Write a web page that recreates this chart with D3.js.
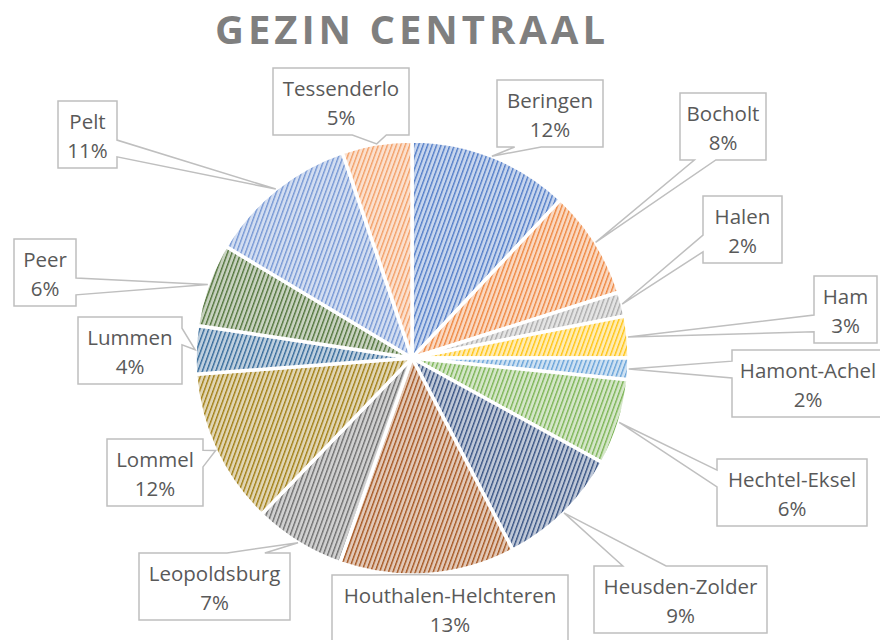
<!DOCTYPE html>
<html>
<head>
<meta charset="utf-8">
<script src="https://cdn.jsdelivr.net/npm/d3@7"></script>
<style>
  body { margin: 0; background: #fff; }
  svg { display: block; }
</style>
</head>
<body>
<div id="chart"></div>
<script>
var svgWidth = 880;
var svgHeight = 640;

// Data (share of total, %)
var gemeenten = ["Beringen", "Bocholt", "Halen", "Ham", "Hamont-Achel", "Hechtel-Eksel",
  "Heusden-Zolder", "Houthalen-Helchteren", "Leopoldsburg", "Lommel", "Lummen", "Peer",
  "Pelt", "Tessenderlo"];
var aandeel = [12.0, 8.1, 1.8, 3.1, 1.6, 6.4, 9.3, 13.1, 6.8, 11.6, 3.6, 6.2, 11.2, 5.2];
var kleuren = ["#4472C4", "#ED7D31", "#A5A5A5", "#FFC000", "#5B9BD5", "#70AD47",
  "#264478", "#9E480E", "#636363", "#997300", "#255E91", "#43682B", "#698ED0", "#F1975A"];

// callout boxes: [x, y, w, h]
var boxes = [
  [497, 80, 106, 67], [680, 93, 86, 67], [703, 196, 79, 67], [814, 276, 63, 67],
  [732, 350, 152, 67], [717, 459, 150, 67], [594, 566, 173, 67], [332, 575, 236, 67],
  [139, 553, 151, 67], [107, 439, 96, 67], [78, 317, 104, 67], [14, 239, 62, 67],
  [58, 101, 59, 67], [273, 68, 136, 67]
];

var cx = 412, cy = 358, radius = 217;

var svg = d3.select("#chart")
  .append("svg")
  .attr("width", svgWidth)
  .attr("height", svgHeight);

var defs = svg.append("defs");

// striped pattern per slice
kleuren.forEach(function(c, i) {
  var bg = d3.interpolateRgb(c, "#ffffff")(0.7);
  var p = defs.append("pattern")
    .attr("id", "pat" + i)
    .attr("patternUnits", "userSpaceOnUse")
    .attr("width", 4.2)
    .attr("height", 4.2)
    .attr("patternTransform", "rotate(20)");
  p.append("rect").attr("width", 4.2).attr("height", 4.2).attr("fill", bg);
  p.append("rect").attr("x", 0).attr("width", 1.35).attr("height", 4.2)
    .attr("fill", c).attr("opacity", 0.9);
});

// title
svg.append("text")
  .attr("x", 410)
  .attr("y", 44)
  .attr("text-anchor", "middle")
  .attr("font-family", "'Open Sans', sans-serif")
  .attr("font-weight", "bold")
  .attr("font-size", 40)
  .attr("fill", "#7F7F7F")
  .attr("textLength", 390)
  .attr("lengthAdjust", "spacing")
  .text("GEZIN CENTRAAL");

var pie = d3.pie().sort(null).value(d => d);
var arcs = pie(aandeel);
var arc = d3.arc().innerRadius(0).outerRadius(radius);

var pieGroup = svg.append("g")
  .attr("transform", `translate(${cx}, ${cy})`);

pieGroup.selectAll("path")
  .data(arcs)
  .enter().append("path")
  .attr("d", arc)
  .attr("fill", (d, i) => `url(#pat${i})`)
  .attr("stroke", "#fff")
  .attr("stroke-width", 3.5)
  .attr("stroke-linejoin", "round");

// wedge rectangle callout, like the office preset shape
function calloutPath(x, y, w, h, px, py) {
  var dx = px - (x + w / 2), dy = py - (y + h / 2);
  var dz = Math.abs(dy) - Math.abs(dx * h / w);
  var x1 = x + w * (dx > 0 ? 7 : 2) / 12, x2 = x + w * (dx > 0 ? 10 : 5) / 12;
  var y1 = y + h * (dy > 0 ? 7 : 2) / 12, y2 = y + h * (dy > 0 ? 10 : 5) / 12;
  var p = d3.path();
  p.moveTo(x, y);
  if (dz > 0 && dy < 0) { p.lineTo(x1, y); p.lineTo(px, py); p.lineTo(x2, y); }
  p.lineTo(x + w, y);
  if (dz <= 0 && dx > 0) { p.lineTo(x + w, y1); p.lineTo(px, py); p.lineTo(x + w, y2); }
  p.lineTo(x + w, y + h);
  if (dz > 0 && dy > 0) { p.lineTo(x2, y + h); p.lineTo(px, py); p.lineTo(x1, y + h); }
  p.lineTo(x, y + h);
  if (dz <= 0 && dx < 0) { p.lineTo(x, y2); p.lineTo(px, py); p.lineTo(x, y1); }
  p.closePath();
  return p.toString();
}

var labels = svg.append("g").selectAll("g")
  .data(arcs)
  .enter().append("g");

labels.append("path")
  .attr("d", function(d, i) {
    var a = (d.startAngle + d.endAngle) / 2;
    var px = cx + radius * Math.sin(a);
    var py = cy - radius * Math.cos(a);
    var b = boxes[i];
    return calloutPath(b[0], b[1], b[2], b[3], px, py);
  })
  .attr("fill", "#fff")
  .attr("stroke", "#BFBFBF")
  .attr("stroke-width", 1.5);

var labelText = labels.append("text")
  .attr("text-anchor", "middle")
  .attr("font-family", "'Open Sans', sans-serif")
  .attr("font-size", 20.5)
  .attr("fill", "#595959");

labelText.append("tspan")
  .attr("x", (d, i) => boxes[i][0] + boxes[i][2] / 2)
  .attr("y", (d, i) => boxes[i][1] + 28)
  .text((d, i) => gemeenten[i]);

labelText.append("tspan")
  .attr("x", (d, i) => boxes[i][0] + boxes[i][2] / 2)
  .attr("y", (d, i) => boxes[i][1] + 57)
  .text(d => Math.round(d.value) + "%");
</script>
</body>
</html>
